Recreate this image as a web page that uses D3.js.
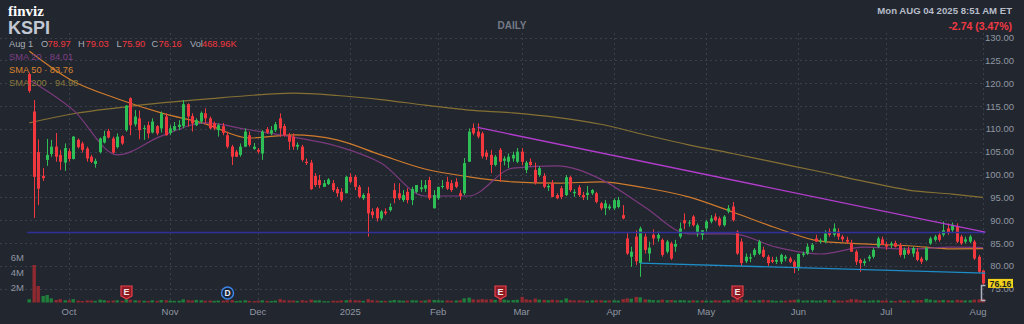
<!DOCTYPE html>
<html>
<head>
<meta charset="utf-8">
<script src="https://cdn.jsdelivr.net/npm/d3@7"></script>
<style>
  body { margin: 0; background: #22262f; }
  svg { display: block; font-family: "Liberation Sans", Arial, sans-serif; }
</style>
</head>
<body>
<div class="chart"></div>
<script>
// KSPI daily chart, finviz dark style

const firstDay = "2024-09-18";
const lastDay = "2025-08-01";
const holidays = ["2024-11-28", "2024-12-25", "2025-01-01", "2025-01-09", "2025-01-20",
                  "2025-02-17", "2025-04-18", "2025-05-26", "2025-06-19", "2025-07-04"];

// [open, high, low, close] per trading day
const ohlc = [
  // Sep
  [122.0,122.3,117.9,118.3],[113.8,116.3,90.5,99.5],[104.9,107.7,93.3,96.9],[99.7,101.4,98.6,99.2],
  [103.2,107.8,101.9,104.3],[104.5,107.6,103.9,106.1],[106.1,109.1,102.8,103.9],[104.3,105.4,101.0,102.8],
  [102.6,106.8,100.8,105.8],
  // Oct
  [105.1,105.7,102.8,103.4],[103.4,108.4,103.3,108.3],[107.6,107.9,105.7,106.0],[106.8,107.2,104.8,105.4],
  [105.7,106.1,102.8,103.5],[103.9,104.3,102.5,102.8],[102.3,103.5,101.5,103.0],[104.9,108.1,104.6,107.9],
  [107.0,109.6,106.8,108.4],[109.5,110.0,107.9,108.1],[107.9,108.3,104.6,104.8],[106.0,109.0,105.7,108.3],
  [108.4,108.6,106.5,106.8],[109.7,115.2,109.4,115.1],[116.7,116.9,108.6,110.8],[111.0,114.1,110.5,112.7],
  [112.3,114.0,107.7,109.7],[110.0,110.8,107.6,110.2],[110.8,111.6,107.9,109.0],[109.2,112.3,109.0,111.6],
  [110.6,110.8,108.6,109.0],[110.1,113.8,109.2,113.4],[112.7,113.4,108.5,108.6],
  // Nov
  [109.1,110.8,108.6,110.1],[109.7,111.5,109.5,110.6],[110.4,111.9,109.7,110.9],[110.6,116.3,110.1,115.4],
  [115.4,115.6,110.5,112.7],[112.8,113.4,109.4,111.2],[110.8,112.3,110.6,111.9],[111.6,113.8,111.2,113.5],
  [113.4,114.5,111.2,112.3],[112.3,112.7,109.9,110.1],[111.2,111.6,109.7,110.1],[109.7,111.2,108.3,110.8],
  [110.6,111.3,108.6,109.1],[108.6,109.4,105.7,106.1],[106.1,106.5,102.1,103.9],[105.0,105.4,103.8,103.9],
  [104.3,106.8,103.9,106.1],[106.1,110.1,106.0,109.4],[108.6,109.4,106.1,106.5],[105.6,106.9,105.4,106.1],
  // Dec
  [105.4,105.8,104.6,105.0],[104.6,109.7,103.2,109.4],[109.9,110.4,108.9,109.2],[109.0,110.6,108.6,109.7],
  [109.7,111.5,109.3,111.0],[112.3,113.4,108.3,110.1],[110.6,111.1,108.3,108.6],[108.6,109.1,105.4,107.2],
  [108.3,109.0,105.4,106.1],[106.1,107.0,105.4,106.5],[106.1,106.5,102.8,103.2],[102.8,103.5,102.1,102.5],
  [102.6,103.2,96.6,96.8],[99.7,100.3,97.3,97.7],[98.8,99.9,97.0,97.7],[97.3,98.8,97.3,98.1],
  [97.9,99.2,97.7,98.9],[98.1,98.8,96.2,96.6],[96.8,97.3,95.1,95.9],[96.2,97.0,94.0,94.4],
  [95.9,99.7,95.9,99.5],
  // Jan
  [99.5,100.3,98.1,98.4],[99.5,99.9,96.6,97.3],[97.3,97.7,94.8,95.1],[94.8,95.9,94.4,95.5],
  [95.9,97.3,86.4,91.5],[91.9,92.6,90.4,91.1],[92.6,92.9,89.7,90.4],[90.4,92.2,90.0,91.9],
  [91.9,92.6,91.1,91.5],[92.2,93.7,91.9,92.9],[96.6,98.1,93.7,94.8],[95.9,98.1,94.4,94.8],
  [94.4,96.6,94.0,95.5],[96.2,97.0,93.7,94.4],[94.4,97.3,93.3,96.8],[96.2,97.7,95.9,97.7],
  [96.8,98.8,96.2,97.2],[96.9,98.8,96.2,97.7],[98.8,99.5,94.4,94.8],[92.6,96.6,92.6,95.5],
  // Feb
  [94.8,97.3,94.4,97.3],[97.3,98.8,96.9,97.5],[98.4,99.5,96.6,96.9],[98.1,98.8,96.2,96.6],
  [98.4,99.2,97.0,97.3],[95.9,96.6,94.4,95.3],[95.9,103.6,95.5,102.5],[102.8,110.1,102.8,109.4],
  [110.2,111.2,108.6,109.0],[109.4,111.2,107.9,108.3],[109.0,109.4,103.5,104.0],[104.8,105.4,103.2,103.9],
  [104.3,105.4,100.3,102.1],[102.1,104.3,101.8,103.9],[105.4,105.8,98.4,102.8],[103.0,104.0,102.0,103.5],
  [102.8,104.6,101.4,103.9],[103.5,105.0,102.8,104.3],[102.8,105.8,102.5,105.0],
  // Mar
  [105.0,105.8,102.0,102.8],[101.0,103.0,100.3,102.6],[102.8,103.5,101.8,102.1],[101.0,102.6,97.8,98.2],
  [99.9,101.8,99.5,101.4],[99.7,100.3,97.0,97.3],[97.2,97.9,96.4,97.5],[98.1,98.8,95.0,95.1],
  [95.5,95.9,94.6,94.8],[97.0,97.5,94.6,95.1],[95.5,99.9,95.3,99.4],[99.4,99.7,96.2,96.6],
  [95.9,96.8,95.1,96.2],[97.2,97.7,95.1,95.5],[95.5,96.2,94.4,95.0],[95.5,97.5,94.4,96.0],
  [95.9,96.8,95.5,96.6],[95.9,96.2,93.7,94.0],[93.7,94.0,92.2,92.6],[92.6,94.4,91.1,93.7],
  [92.6,93.5,92.2,93.0],
  // Apr
  [92.6,94.8,92.2,94.4],[92.9,95.1,92.6,94.4],[91.1,93.3,90.2,90.4],[86.0,87.1,82.4,82.7],
  [82.0,84.2,79.8,83.1],[86.4,87.8,80.2,81.0],[80.6,88.6,77.6,88.2],[86.4,87.1,82.7,83.5],
  [82.7,85.3,81.0,84.0],[86.8,88.0,84.6,86.0],[86.0,87.5,85.3,86.8],[85.7,86.0,82.0,82.4],
  [83.1,85.7,82.7,85.3],[84.9,85.3,81.3,81.6],[84.2,85.7,83.1,84.8],[86.4,89.5,86.0,88.2],
  [90.0,91.5,88.0,89.3],[89.3,90.0,88.6,89.5],[90.8,91.1,88.6,88.9],[87.3,89.3,86.4,88.9],
  [86.8,87.8,85.7,87.8],
  // May
  [88.2,90.0,87.5,89.7],[89.7,91.1,89.3,90.4],[90.8,91.5,89.7,90.0],[90.4,90.8,88.6,88.9],
  [88.9,91.1,88.6,90.8],[91.9,93.3,91.5,92.6],[93.0,94.0,89.7,90.0],[87.5,87.8,82.4,82.7],
  [85.3,86.0,80.0,80.6],[81.0,82.7,80.6,82.0],[81.6,82.7,80.8,81.9],[82.4,83.9,82.0,83.5],
  [82.7,85.7,82.4,85.3],[83.5,84.2,81.8,82.0],[82.0,82.4,80.0,80.6],[81.3,82.0,80.6,80.9],
  [80.9,82.0,80.4,81.3],[80.9,82.7,80.4,82.4],[81.6,82.4,81.0,82.0],[81.6,82.0,80.6,80.9],
  [80.9,81.3,78.4,79.5],
  // Jun
  [79.5,82.7,78.9,82.6],[82.4,83.1,82.0,82.7],[82.7,84.9,82.4,84.2],[83.5,85.0,83.1,84.6],
  [86.0,86.8,85.3,85.3],[85.3,86.0,84.9,85.5],[85.3,87.8,85.0,87.1],[87.5,88.2,86.4,86.8],
  [86.8,89.3,86.4,88.2],[87.5,88.2,85.7,86.4],[86.4,86.8,85.3,85.8],[85.7,86.4,84.9,85.3],
  [84.9,85.7,83.1,83.1],[83.1,83.5,80.2,80.9],[81.3,81.6,78.7,80.6],[80.6,81.6,80.0,81.0],
  [81.6,82.4,81.0,82.0],[82.0,83.9,81.6,83.5],[84.2,86.4,83.9,86.0],[85.8,86.4,84.6,84.6],
  // Jul
  [84.6,85.3,83.5,84.2],[84.6,85.3,83.9,84.9],[85.0,85.5,84.0,84.2],[84.6,85.0,82.0,82.4],
  [82.4,84.0,81.6,83.5],[83.5,84.2,82.4,82.7],[82.7,84.2,82.0,83.9],[83.1,83.9,81.0,81.3],
  [81.6,82.0,80.4,80.9],[81.3,84.2,81.0,83.9],[84.9,86.4,84.6,86.0],[85.7,86.8,85.3,86.4],
  [86.8,87.5,85.3,85.7],[86.8,89.7,86.4,87.8],[88.2,89.3,86.8,87.3],[87.8,89.5,87.3,89.0],
  [88.6,89.3,85.0,85.3],[86.4,86.8,84.6,84.9],[85.3,86.4,84.9,85.8],[85.3,86.8,85.0,86.4],
  [85.3,85.7,81.3,81.6],[82.0,82.4,78.4,78.7],
  // Aug
  [78.97,79.03,75.90,76.16]
];

// volume in thousands of shares
const volumeK = [
  430,5000,2200,870,1000,550,330,450,300,
  300,450,250,200,280,260,220,380,300,240,260,300,220,420,380,300,260,240,220,300,220,340,300,
  260,220,240,420,300,260,350,300,240,260,220,260,240,300,320,200,240,300,220,180,
  240,300,220,200,260,450,300,280,260,220,300,220,380,280,300,180,160,240,220,280,300,
  340,300,280,220,450,300,260,240,220,250,330,280,240,260,300,280,240,260,380,340,
  300,260,280,240,260,300,550,650,420,380,450,400,420,350,600,380,300,320,360,
  750,420,350,520,380,350,300,380,320,300,550,320,280,300,260,240,280,320,300,260,280,
  300,260,450,550,500,750,700,420,380,320,300,380,300,340,280,320,300,260,300,260,280,
  260,240,300,280,260,320,380,480,500,300,280,260,300,350,320,260,220,260,240,300,360,
  380,260,280,300,240,260,350,300,280,260,240,300,450,420,300,260,240,280,300,260,
  280,240,200,300,260,240,280,300,320,500,380,300,280,340,300,260,350,300,280,300,380,420,
  468.96
];

// moving averages at these trading-day positions
const smaDays = [0,10,20,30,40,50,60,70,80,90,100,110,120,130,140,150,160,170,180,190,200,210,217];
const sma20 = [120.7,114.1,104.3,108.4,111.3,109.8,108.2,106.2,102.5,95.3,95.3,101.4,101.9,99.0,92.9,87.0,87.0,84.1,82.6,84.1,83.7,84.1,84.01];
const sma50 = [127.0,120.4,116.6,113.5,111.1,108.0,108.7,107.6,104.3,101.2,99.5,98.4,98.1,98.4,97.1,95.1,91.8,88.3,85.4,84.8,84.4,83.7,83.76];
const sma200 = [111.3,113.3,114.6,115.7,116.5,117.3,117.8,117.3,116.4,115.2,114.1,113.5,112.5,111.0,108.7,106.5,104.6,102.6,100.6,98.5,96.6,95.7,94.98];

// drawn trend lines: [date, price]
const resistLine = [["2025-02-14", 110.3], ["2025-08-01", 87.4]];
const supportLine = [["2025-04-09", 80.6], ["2025-08-01", 78.4]];
const flatLine = [["2024-09-18", 87.3], ["2025-08-01", 87.3]];

const earningsDays = ["2024-10-18", "2025-02-24", "2025-05-12"];
const dividendDays = ["2024-11-20"];

const priceTicks = [75,80,85,90,95,100,105,110,115,120,125,130];
const volTicks = [2,4,6];
const monthTicks = [["2024-10-01","Oct"],["2024-11-01","Nov"],["2024-12-02","Dec"],["2025-01-02","2025"],
                    ["2025-02-03","Feb"],["2025-03-03","Mar"],["2025-04-01","Apr"],["2025-05-01","May"],
                    ["2025-06-02","Jun"],["2025-07-01","Jul"],["2025-08-01","Aug"]];

// ---------------------------------------------------------------

const W = 1024, H = 324;
const bg = "#22262f", gridCol = "#3a3f4b", axisText = "#8f96a2";
const upCol = "#2dbe55", downCol = "#f2383e";

const fmt = d3.timeFormat("%Y-%m-%d"), parse = d3.timeParse("%Y-%m-%d");
const hol = new Set(holidays);
const days = d3.timeDay.range(parse(firstDay), d3.timeDay.offset(parse(lastDay), 1))
  .filter(d => d.getDay() % 6 !== 0 && !hol.has(fmt(d)))
  .map(fmt);
if (days.length !== ohlc.length || days.length !== volumeK.length)
  console.warn("length mismatch", days.length, ohlc.length, volumeK.length);

const candles = days.map((d, i) => ({
  date: d, o: ohlc[i][0], h: ohlc[i][1], l: ohlc[i][2], c: ohlc[i][3],
  v: volumeK[i], up: i === 0 ? true : ohlc[i][3] >= ohlc[i-1][3]
}));

const x = d3.scaleBand().domain(days).range([27.2, 985.2]);
const xc = d => x(d) + x.bandwidth() / 2;
const y = d3.scaleLinear().domain([75, 130]).range([288.7, 37.5]);
const yv = d3.scaleLinear().domain([0, 6000]).range([302.5, 257.5]);

const svg = d3.select(".chart").append("svg")
  .attr("width", W).attr("height", H);

svg.append("rect").attr("width", W).attr("height", H).attr("fill", bg);

// grid
const grid = svg.append("g").attr("stroke", gridCol).attr("stroke-dasharray", "2,3").attr("stroke-width", 1);
grid.selectAll(".hg").data(priceTicks).enter().append("line")
  .attr("x1", 0).attr("x2", 985)
  .attr("y1", d => Math.round(y(d)) + 0.5).attr("y2", d => Math.round(y(d)) + 0.5);
grid.selectAll(".vg").data(monthTicks).enter().append("line")
  .attr("x1", d => Math.round(xc(d[0])) + 0.5).attr("x2", d => Math.round(xc(d[0])) + 0.5)
  .attr("y1", 33).attr("y2", 303);

// volume
svg.append("g").selectAll("rect").data(candles).enter().append("rect")
  .attr("x", d => Math.round(xc(d.date)) - 1.5)
  .attr("width", 3.4)
  .attr("y", d => yv(d.v))
  .attr("height", d => yv(0) - yv(d.v))
  .attr("fill", d => d.up ? "#1f7e3b" : "#902a30");

svg.append("g").selectAll("text").data(volTicks).enter().append("text")
  .attr("x", 24).attr("y", d => yv(d * 1000) + 3.3)
  .attr("text-anchor", "end")
  .attr("font-size", 9.5).attr("fill", axisText)
  .text(d => d + "M");

// moving averages
const smaLine = d3.line()
  .x(d => xc(days[d[0]]))
  .y(d => y(d[1]))
  .curve(d3.curveMonotoneX);
[[sma200, "#857034"], [sma50, "#d07b2c"], [sma20, "#7b3a7e"]].forEach(([vals, col]) => {
  svg.append("path")
    .datum(smaDays.map((k, i) => [k, vals[i]]))
    .attr("d", smaLine)
    .attr("fill", "none").attr("stroke", col).attr("stroke-width", 1.2);
});

// candles
const cg = svg.append("g");
cg.selectAll(".wick").data(candles).enter().append("line")
  .attr("x1", d => Math.round(xc(d.date)) + 0.5).attr("x2", d => Math.round(xc(d.date)) + 0.5)
  .attr("y1", d => y(d.h)).attr("y2", d => y(d.l))
  .attr("stroke", d => d.c >= d.o ? upCol : downCol).attr("stroke-width", 1);
cg.selectAll(".body").data(candles).enter().append("rect")
  .attr("x", d => Math.round(xc(d.date)) - 1)
  .attr("width", 3)
  .attr("y", d => y(Math.max(d.o, d.c)))
  .attr("height", d => Math.max(1, Math.abs(y(d.o) - y(d.c))))
  .attr("fill", d => d.c >= d.o ? upCol : downCol);

// trend lines
const tl = (pts, col) => svg.append("line")
  .attr("x1", pts[0][0] === firstDay ? x(firstDay) : xc(pts[0][0])).attr("y1", y(pts[0][1]))
  .attr("x2", x(pts[1][0]) + x.bandwidth()).attr("y2", y(pts[1][1]))
  .attr("stroke", col).attr("stroke-width", 1.3);
tl(flatLine, "#30309a");
tl(resistLine, "#b23ccc");
tl(supportLine, "#1e8cc6");

// price axis
const ya = svg.append("g").attr("transform", "translate(1014,0)")
  .call(d3.axisRight(y).tickValues(priceTicks).tickFormat(d3.format(".2f")).tickSize(0).tickPadding(0));
ya.select(".domain").remove();
ya.selectAll("text").attr("text-anchor", "end").attr("fill", axisText)
  .attr("font-size", 9.5).attr("font-family", "Liberation Sans, Arial, sans-serif");

// time axis
const xa = svg.append("g").attr("transform", "translate(0,305)")
  .call(d3.axisBottom(x).tickValues(monthTicks.map(m => m[0]))
    .tickFormat(d => monthTicks.find(m => m[0] === d)[1]).tickSize(0).tickPadding(3));
xa.select(".domain").remove();
xa.selectAll("text").attr("fill", axisText).attr("font-size", 9.5)
  .attr("font-family", "Liberation Sans, Arial, sans-serif")
  .attr("dx", d => d === lastDay ? -5 : 0);

// event markers
earningsDays.forEach(d => {
  const cx = Math.round(xc(d)) + 0.5, cy = 292;
  svg.append("path")
    .attr("d", `M${cx-5.5},${cy-6} H${cx+5.5} V${cy+4} L${cx},${cy+7} L${cx-5.5},${cy+4} Z`)
    .attr("fill", "#8e1c25").attr("stroke", "#e8404a").attr("stroke-width", 1.2);
  svg.append("text").attr("x", cx).attr("y", cy + 3.3).attr("text-anchor", "middle")
    .attr("font-size", 9).attr("font-weight", "bold").attr("fill", "#f3e6e6").text("E");
});
dividendDays.forEach(d => {
  const cx = Math.round(xc(d)) + 0.5, cy = 293;
  svg.append("circle").attr("cx", cx).attr("cy", cy).attr("r", 6)
    .attr("fill", "#1b2336").attr("stroke", "#3b86e6").attr("stroke-width", 1.5);
  svg.append("text").attr("x", cx).attr("y", cy + 3.2).attr("text-anchor", "middle")
    .attr("font-size", 8.5).attr("font-weight", "bold").attr("fill", "#e6ecf5").text("D");
});

// last price tag and bracket
const last = candles[candles.length - 1];
svg.append("path").attr("d", "M985.5,285.5 H981.5 V300.5 H985.5")
  .attr("fill", "none").attr("stroke", "#aeb4bf").attr("stroke-width", 1.5);
svg.append("rect").attr("x", 988).attr("y", y(last.c) - 4.5).attr("width", 25).attr("height", 9)
  .attr("fill", "#f2d21b");
svg.append("text").attr("x", 1000.5).attr("y", y(last.c) + 3.2).attr("text-anchor", "middle")
  .attr("font-size", 8.8).attr("font-weight", "bold").attr("fill", "#1d1f25").text(last.c.toFixed(2));

// header
svg.append("text").attr("x", 8).attr("y", 16)
  .attr("font-family", "Liberation Serif, DejaVu Serif, serif").attr("font-weight", "bold")
  .attr("font-size", 15).attr("fill", "#ffffff").text("finviz");
svg.append("text").attr("x", 8).attr("y", 34)
  .attr("font-weight", "bold").attr("font-size", 18).attr("fill", "#c2c8d3").text("KSPI");
svg.append("text").attr("x", 512).attr("y", 29).attr("text-anchor", "middle")
  .attr("font-weight", "bold").attr("font-size", 10).attr("fill", "#737a86").text("DAILY");
svg.append("text").attr("x", 1012).attr("y", 14).attr("text-anchor", "end")
  .attr("font-weight", "bold").attr("font-size", 9.6).attr("fill", "#b6bdc9").text("Mon AUG 04 2025 8:51 AM ET");
svg.append("text").attr("x", 1012).attr("y", 30).attr("text-anchor", "end")
  .attr("font-weight", "bold").attr("font-size", 10.5).attr("fill", "#f23a44").text("-2.74 (3.47%)");

const ohlcLabels = [["Aug 1", 9, "#a7adb8"], ["O", 41, "#a7adb8"], ["78.97", 47.5, downCol],
  ["H", 78, "#a7adb8"], ["79.03", 85.5, downCol], ["L", 116.5, "#a7adb8"], ["75.90", 122, downCol],
  ["C", 151.5, "#a7adb8"], ["76.16", 158.5, downCol], ["Vol", 190, "#a7adb8"], ["468.96K", 202, downCol]];
svg.append("g").selectAll("text").data(ohlcLabels).enter().append("text")
  .attr("x", d => d[1]).attr("y", 46.5).attr("font-size", 9.3).attr("fill", d => d[2]).text(d => d[0]);

const legend = [["SMA 20 · " + sma20[sma20.length-1].toFixed(2), "#7e3f86", 59.5],
  ["SMA 50 · " + sma50[sma50.length-1].toFixed(2), "#d9822f", 72.5],
  ["SMA 200 · " + sma200[sma200.length-1].toFixed(2), "#8a7a3e", 85.5]];
svg.append("g").selectAll("text").data(legend).enter().append("text")
  .attr("x", 9).attr("y", d => d[2]).attr("font-size", 9.3).attr("fill", d => d[1]).text(d => d[0]);
</script>
</body>
</html>
